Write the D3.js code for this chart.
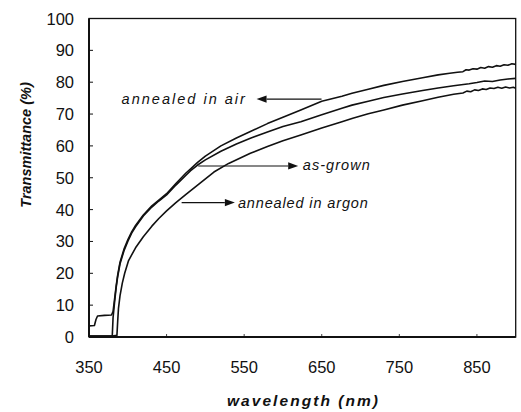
<!DOCTYPE html>
<html>
<head>
<meta charset="utf-8">
<script src="https://cdn.jsdelivr.net/npm/d3@7"></script>
<style>
  html, body { margin: 0; padding: 0; background: #fff; }
  svg { display: block; }
</style>
</head>
<body>
<div id="chart"></div>
<script>
// ---- data ----
const xTicks = [350, 450, 550, 650, 750, 850];
const yTicks = [0, 10, 20, 30, 40, 50, 60, 70, 80, 90, 100];

const airWl = [350, 357, 359, 361, 370, 379, 381, 383, 385, 387, 390, 395, 400, 405, 410, 420, 431, 440, 450, 462, 475, 481, 490, 500, 520, 540, 558, 580, 600, 623, 650, 676, 689, 710, 730, 754, 780, 800, 815, 825, 832, 836, 840, 845, 850, 855, 860, 865, 870, 875, 880, 885, 890, 895, 900];
const airT  = [3.5, 3.6, 5.5, 6.6, 6.8, 6.9, 8, 12, 16, 19.5, 23.5, 27.5, 30.5, 33, 35, 38.3, 41.2, 43, 45, 48.2, 51.5, 52.8, 54.8, 56.8, 60, 62.5, 64.5, 67, 69, 71.3, 74, 75.6, 76.5, 77.8, 79, 80.2, 81.4, 82.3, 82.8, 83.1, 83.3, 83.9, 83.8, 84.2, 84.1, 84.6, 84.4, 84.9, 84.7, 85.2, 85.0, 85.5, 85.3, 85.8, 85.6];

const grownWl = [350, 370, 380, 381, 383, 385, 387, 390, 395, 400, 405, 410, 420, 431, 440, 450, 462, 475, 481, 490, 500, 520, 540, 558, 580, 600, 623, 650, 676, 689, 710, 730, 754, 780, 800, 820, 840, 850, 860, 870, 880, 890, 900];
const grownT  = [0.3, 0.3, 0.4, 6, 11, 15.5, 19, 23, 27, 30, 32.6, 34.6, 38, 40.8, 42.7, 44.6, 47.7, 50.8, 52.2, 54, 55.6, 58.3, 60.6, 62.4, 64.4, 66.1, 67.6, 69.8, 71.8, 72.8, 74, 75.2, 76.3, 77.4, 78.2, 78.9, 79.5, 79.9, 80.4, 80.2, 80.7, 81.0, 81.2];

const argonWl = [350, 380, 386, 387, 388, 390, 393, 396, 401, 410, 420, 431, 440, 450, 462, 475, 494, 511, 530, 558, 580, 600, 623, 650, 676, 690, 710, 730, 754, 780, 800, 820, 832, 837, 842, 847, 852, 857, 862, 867, 872, 877, 882, 887, 892, 897, 900];
const argonT  = [0.3, 0.3, 0.5, 5, 9, 13, 17, 20, 24, 28, 31.5, 34.8, 37.2, 39.6, 42.2, 44.8, 48.5, 51.8, 54.5, 57.7, 59.8, 61.6, 63.4, 65.6, 67.6, 68.7, 70.1, 71.3, 72.8, 74.2, 75.3, 76.2, 76.6, 77.2, 77.0, 77.6, 77.4, 77.9, 77.7, 78.2, 78.0, 78.4, 78.1, 78.5, 78.2, 78.4, 78.1];

// annotation labels: text span and arrow (tail -> tip), in data units
const noteLabels = ['annealed in air', 'as-grown', 'annealed in argon'];
const noteTextFrom = [392, 625.6, 541.9];
const noteTextTo   = [551, 712, 709.4];
const noteTextT    = [74.6, 54.0, 42.0];
const noteTail     = [649.7, 490.8, 469.4];
const noteTip      = [566, 619.6, 538];
const noteArrowT   = [74.7, 53.7, 42.2];

// ---- layout ----
const W = 521, H = 412;
const x = d3.scaleLinear().domain([350, 900]).range([89, 515.7]);
const y = d3.scaleLinear().domain([0, 100]).range([337, 18.5]);

const svg = d3.select('#chart').append('svg')
  .attr('width', W).attr('height', H)
  .attr('viewBox', `0 0 ${W} ${H}`);

const ink = '#111';
const font = '"Liberation Sans", Arial, Helvetica, sans-serif';

// frame: heavier left/bottom like the scan
svg.append('rect')
  .attr('x', x(350)).attr('y', y(100))
  .attr('width', x(900) - x(350)).attr('height', y(0) - y(100))
  .attr('fill', 'none').attr('stroke', ink).attr('stroke-width', 1.3);
svg.append('line')
  .attr('x1', x(350)).attr('x2', x(350)).attr('y1', y(100)).attr('y2', y(0))
  .attr('stroke', ink).attr('stroke-width', 2);
svg.append('line')
  .attr('x1', x(350)).attr('x2', x(900)).attr('y1', y(0)).attr('y2', y(0))
  .attr('stroke', ink).attr('stroke-width', 2);

// y ticks (inward) + labels
const yAxis = svg.append('g');
yAxis.selectAll('line').data(yTicks.filter(d => d > 0 && d < 100)).join('line')
  .attr('x1', x(350)).attr('x2', x(350) + 4)
  .attr('y1', d => y(d)).attr('y2', d => y(d))
  .attr('stroke', ink).attr('stroke-width', 1);
yAxis.selectAll('text').data(yTicks).join('text')
  .attr('x', 74).attr('y', d => y(d))
  .attr('text-anchor', 'end').attr('dominant-baseline', 'central')
  .attr('font-family', font).attr('font-size', 16.5).attr('fill', ink)
  .text(d => d);

// x ticks (tiny, inward) + labels
const xAxis = svg.append('g');
xAxis.selectAll('line').data(xTicks.slice(1)).join('line')
  .attr('x1', d => x(d)).attr('x2', d => x(d))
  .attr('y1', y(0)).attr('y2', y(0) - 3)
  .attr('stroke', ink).attr('stroke-width', 0.8);
xAxis.selectAll('text').data(xTicks).join('text')
  .attr('x', d => x(d)).attr('y', 367)
  .attr('text-anchor', 'middle').attr('dominant-baseline', 'central')
  .attr('font-family', font).attr('font-size', 16.5).attr('fill', ink)
  .text(d => d);

// axis titles
svg.append('text')
  .attr('x', 302.5).attr('y', 406)
  .attr('text-anchor', 'middle')
  .attr('font-family', font).attr('font-size', 15.5)
  .attr('font-style', 'italic').attr('font-weight', 'bold')
  .attr('textLength', 151).attr('lengthAdjust', 'spacing')
  .attr('fill', ink)
  .text('wavelength (nm)');
svg.append('text')
  .attr('transform', 'translate(31,145) rotate(-90)')
  .attr('text-anchor', 'middle')
  .attr('font-family', font).attr('font-size', 14.5)
  .attr('font-style', 'italic').attr('font-weight', 'bold')
  .attr('fill', ink)
  .text('Transmittance (%)');

// ---- spectra ----
const line = d3.line().x(d => x(d[0])).y(d => y(d[1]));
const series = [
  d3.zip(argonWl, argonT),
  d3.zip(grownWl, grownT),
  d3.zip(airWl, airT),
];
svg.append('g').selectAll('path').data(series).join('path')
  .attr('d', line)
  .attr('fill', 'none').attr('stroke', ink)
  .attr('stroke-width', 1.6).attr('stroke-linejoin', 'round');

// ---- annotations ----
const notes = noteLabels.map((label, i) => ({
  label,
  tx0: noteTextFrom[i], tx1: noteTextTo[i], tt: noteTextT[i],
  tail: noteTail[i], tip: noteTip[i], at: noteArrowT[i],
}));
const gn = svg.append('g');
notes.forEach(n => {
  const dir = Math.sign(x(n.tip) - x(n.tail));
  const head = 10, half = 3.6;
  gn.append('line')
    .attr('x1', x(n.tail)).attr('x2', x(n.tip) - dir * head)
    .attr('y1', y(n.at)).attr('y2', y(n.at))
    .attr('stroke', ink).attr('stroke-width', 1.1);
  const tx = x(n.tip), ty = y(n.at);
  gn.append('path')
    .attr('d', `M${tx},${ty}L${tx - dir * head},${ty - half}L${tx - dir * head},${ty + half}Z`)
    .attr('fill', ink);
  gn.append('text')
    .attr('x', x(n.tx0)).attr('y', y(n.tt))
    .attr('dominant-baseline', 'central')
    .attr('font-family', font).attr('font-size', 14.5)
    .attr('font-style', 'italic')
    .attr('textLength', x(n.tx1) - x(n.tx0)).attr('lengthAdjust', 'spacing')
    .attr('fill', ink)
    .text(n.label);
});
</script>
</body>
</html>
